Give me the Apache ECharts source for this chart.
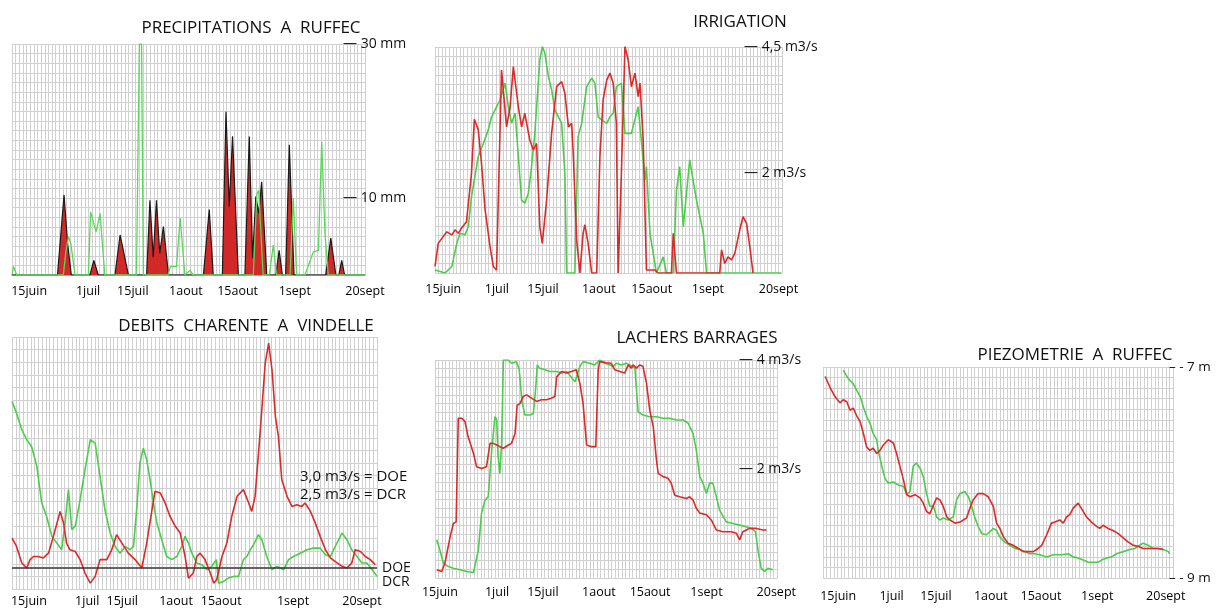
<!DOCTYPE html>
<html><head><meta charset="utf-8">
<script src="https://cdn.jsdelivr.net/npm/echarts@6/dist/echarts.min.js"></script>
<style>html,body{margin:0;padding:0;background:#fff}#c{width:1217px;height:608px}</style>
</head><body><div id="c"></div>
<script>
// ---- tick labels (x axis = days since 15 June) ----
const dayLabels = ['15juin','1juil','15juil','1aout','15aout','1sept','20sept'];
const precipLabelDays = [4.7, 20.9, 33.2, 47.8, 62, 77.7, 97];
const irrigLabelDays  = [2.3, 17.3, 30.2, 45.8, 60.6, 76.3, 96];
const debitLabelDays  = [4.5, 20, 29.3, 43.6, 55.6, 74.7, 93];
const lacherLabelDays = [1.4, 17.6, 30.6, 46.5, 61, 77, 96.8];
const piezoLabelDays  = [4.2, 19, 31.3, 46.5, 60.4, 76, 95];

// ---- Precipitations a Ruffec (mm) ----
const precipRed = [[0,0],[12.5,0],[14.3,10.4],[15.3,4],[16.3,0],[21.4,0],[22.5,1.9],[23.7,0],[28.3,0],[29.7,5.2],[32,0],[37,0],[37.9,9.7],[38.8,2.3],[39.7,9.7],[40.6,2.8],[41.6,6.3],[43,0],[52.6,0],[54.2,8.5],[55.3,0],[57.8,0],[58.8,21.2],[59.7,8.9],[60.6,18],[62.2,0],[64,0],[65.2,18],[66.1,2.2],[67,10.2],[67.8,8],[68.6,12.1],[70,0],[72.5,0],[73.4,3.2],[74.3,0],[75.2,0],[76.2,16.9],[77.5,0],[86.2,0],[87.6,4.8],[89,0],[89.8,0],[90.6,1.9],[91.4,0],[97,0]];
const precipGreen = [[0,0],[0.4,1.1],[1.3,0],[14.1,0],[14.8,3],[15.5,5],[16.2,4],[17.3,0],[21,0],[21.6,8.2],[23.1,5.6],[24.2,8.0],[25.5,0],[34.2,0],[35,30],[35.6,30],[36.1,0],[42.9,0],[43.5,1.1],[45.2,1.1],[46.2,7.4],[47.5,0],[48.9,0.6],[49.8,0],[66.3,0],[67.3,10.5],[67.8,11],[69,0],[70.7,0],[71.8,3.9],[72.7,0],[76.4,0],[77.3,10],[78.2,0],[80.5,0],[82.8,3.0],[84.2,3.2],[85.1,17.3],[86,5.4],[86.9,0],[97,0]];

// ---- Irrigation (m3/s) ----
const irrigRed = [[0,0.13],[0.9,0.59],[3.3,0.82],[4.7,0.76],[5.6,0.86],[6.5,0.79],[7.4,0.89],[8.8,1.02],[10.2,1.98],[11.0,3.06],[12.1,2.85],[13.0,2.18],[14.0,1.26],[15.4,0.52],[16.3,0.13],[17.2,0.06],[18.6,4.04],[20.0,2.91],[21.0,3.31],[21.9,4.11],[23.3,3.31],[24.2,2.91],[25.1,3.18],[26.5,2.65],[27.5,2.45],[28.4,2.58],[29.3,0.92],[30.0,0.59],[31.2,1.45],[32.6,2.78],[34.0,3.71],[35.4,3.81],[36.3,3.58],[37.3,2.91],[38.2,2.98],[38.6,2.45],[39.6,0.66],[40.5,0],[41.4,0.79],[41.9,0.96],[42.8,0.59],[43.8,0],[45.2,0],[46.1,2.32],[47.0,3.45],[48.0,3.84],[48.9,3.98],[49.8,3.78],[50.7,2.98],[51.2,0],[52.1,1.98],[53.1,4.51],[54.0,4.24],[54.9,3.71],[55.9,3.98],[56.8,3.51],[57.3,3.78],[58.2,2.65],[59.1,0.06],[61.5,0.06],[62.4,0],[66.1,0],[66.6,0.79],[67.5,0],[79.6,0],[80.1,0.46],[81.0,0.19],[81.9,0.32],[82.9,0.26],[83.8,0.39],[85.2,0.86],[86.1,1.12],[87.1,0.99],[88.0,0.52],[88.9,0]];
const irrigGreen = [[0,0.06],[2.8,0],[4.7,0.13],[6.1,0.59],[7.0,0.79],[8.4,0.76],[9.3,0.92],[10.2,1.52],[12.1,2.32],[13.5,2.58],[14.9,2.85],[15.8,3.11],[16.8,3.25],[18.2,3.45],[19.6,3.78],[20.5,3.31],[21.4,2.98],[22.4,3.18],[23.3,2.32],[24.2,1.45],[25.1,1.39],[26.1,1.59],[27.0,2.12],[27.9,2.78],[29.3,4.24],[30.0,4.51],[30.7,4.38],[31.7,3.91],[32.6,3.65],[33.5,3.25],[35.4,2.98],[36.3,1.98],[36.8,0],[39.1,0],[40.0,2.72],[41.0,2.98],[42.4,3.71],[43.8,3.88],[44.7,3.78],[45.6,3.11],[46.6,3.05],[48.0,2.98],[48.9,3.11],[49.8,3.18],[50.7,3.71],[52.1,3.78],[53.1,2.78],[54.9,2.78],[56.8,3.31],[58.7,1.85],[59.1,2.12],[60.1,0.79],[61.9,0],[63.8,0.32],[64.7,0],[66.6,0],[67.5,1.65],[68.4,2.12],[69.4,0.92],[71.2,2.25],[73.1,1.45],[75.0,0.79],[75.9,0],[96.8,0]];

// ---- Debits Charente a Vindelle (m3/s) ----
const debitRed = [[0,4.07],[1.2,3.77],[2.6,3.18],[3.9,3.0],[4.8,3.3],[5.7,3.41],[7.0,3.41],[8.3,3.36],[9.7,3.53],[11.0,4.13],[12.8,5.02],[13.7,4.61],[14.5,3.89],[15.4,3.65],[16.8,3.59],[18.1,3.3],[19.4,2.82],[20.8,2.46],[22.1,2.7],[23.4,3.3],[25.2,3.3],[26.5,3.65],[27.8,4.19],[29.2,3.89],[30.9,3.53],[32.7,3.3],[34.5,3.0],[35.8,3.89],[37.2,5.08],[38.0,5.74],[39.4,5.68],[40.7,5.32],[42.0,4.84],[43.4,4.49],[44.7,4.25],[46.0,3.41],[46.9,2.64],[48.2,2.82],[49.1,3.41],[50.0,3.53],[51.3,3.3],[52.7,2.82],[53.6,2.46],[54.4,2.58],[55.8,3.41],[57.1,3.89],[58.4,4.84],[59.8,5.56],[61.5,5.8],[62.9,5.32],[63.7,5.02],[64.6,5.56],[66.0,7.94],[67.3,10.32],[68.2,11.03],[69.1,10.08],[70.0,8.41],[70.8,7.70],[71.7,6.15],[73.1,5.56],[74.4,5.2],[75.7,5.26],[77.0,5.2],[77.9,5.32],[79.3,5.02],[80.6,4.61],[81.9,4.13],[83.3,3.65],[84.6,3.36],[86.4,3.18],[87.7,3.06],[89.0,3.0],[90.3,3.18],[91.2,3.65],[92.6,3.59],[93.9,3.41],[95.2,3.3],[96.5,3.12]];
const debitGreen = [[0,8.95],[1.2,8.53],[2.6,7.94],[3.9,7.58],[5.2,7.34],[6.6,6.63],[7.9,5.32],[9.2,4.84],[10.6,4.13],[11.9,3.89],[13.2,3.65],[14.1,4.61],[15.0,5.8],[15.9,4.37],[16.8,4.49],[18.1,5.44],[19.4,6.51],[20.8,7.58],[22.1,7.46],[23.4,6.27],[24.7,5.08],[26.1,4.25],[27.4,3.77],[28.7,3.53],[30.1,3.77],[31.4,3.65],[32.3,3.77],[33.2,5.2],[34.0,6.75],[34.9,7.28],[35.8,6.87],[36.7,6.15],[37.6,5.32],[38.5,4.61],[39.8,4.01],[41.1,3.41],[42.5,3.3],[43.8,3.41],[45.1,3.77],[46.0,4.13],[46.9,3.89],[47.8,3.53],[49.1,3.18],[50.4,3.12],[51.8,2.94],[53.1,3.06],[54.3,3.3],[54.9,2.46],[56.2,2.52],[57.5,2.64],[58.9,2.70],[60.2,2.70],[61.5,3.3],[62.4,3.41],[63.3,3.65],[64.2,3.83],[65.5,4.19],[66.4,4.01],[67.7,3.41],[69.1,2.94],[70.4,3.06],[72.2,2.94],[73.5,3.3],[74.8,3.41],[76.6,3.53],[78.4,3.65],[80.1,3.71],[81.9,3.71],[83.3,3.47],[84.6,3.41],[85.9,3.77],[87.7,4.25],[89.0,4.01],[90.3,3.65],[91.7,3.41],[93.0,3.18],[94.3,3.18],[95.7,2.94],[97.0,2.70]];
const DOE = 3.0, DCR = 2.5;

// ---- Lachers barrages (m3/s) ----
const lacherRed = [[0.5,0.15],[1.9,0.12],[2.8,0.27],[4.3,0.76],[5.2,1.0],[6.0,1.03],[6.6,2.93],[7.6,2.93],[8.5,2.87],[9.4,2.59],[10.9,2.29],[11.8,2.04],[13.2,2.01],[14.6,2.04],[15.6,2.47],[16.5,2.47],[17.5,2.44],[18.4,2.41],[19.4,2.38],[20.8,2.44],[21.7,2.47],[22.7,2.65],[23.3,3.17],[24.1,3.2],[25.0,3.33],[26.0,3.36],[27.4,3.30],[28.8,3.24],[30.2,3.27],[31.6,3.27],[33.0,3.30],[34.0,3.33],[34.5,3.69],[35.9,3.79],[37.3,3.76],[38.7,3.79],[40.1,3.82],[41.1,3.57],[42.0,3.20],[43.0,2.44],[44.4,2.41],[45.6,2.41],[46.3,3.82],[46.7,3.97],[48.6,3.95],[50.0,3.94],[51.0,3.82],[52.4,3.79],[53.8,3.76],[54.8,3.91],[55.7,3.85],[56.2,3.91],[57.1,3.85],[58.1,3.91],[59.0,3.88],[60.0,3.57],[60.9,3.08],[61.9,2.78],[62.8,2.17],[63.3,1.92],[64.7,1.86],[66.1,1.83],[67.0,1.74],[68.0,1.52],[69.4,1.49],[71.3,1.46],[72.2,1.49],[73.2,1.43],[74.1,1.28],[75.1,1.19],[77.0,1.16],[78.4,1.06],[79.8,0.88],[81.7,0.85],[84.0,0.85],[85.5,0.82],[86.4,0.70],[87.3,0.85],[88.3,0.88],[89.2,0.91],[91.1,0.91],[93.0,0.88],[94.0,0.88]];
const lacherGreen = [[0.5,0.70],[1.4,0.51],[2.4,0.27],[3.8,0.21],[5.2,0.18],[7.1,0.15],[9.0,0.12],[10.9,0.10],[12.3,0.51],[13.2,1.19],[14.2,1.43],[15.1,1.49],[16.1,2.35],[17.0,2.96],[17.5,2.90],[17.9,2.23],[18.4,1.92],[18.9,2.47],[19.4,4.0],[20.8,4.0],[21.7,3.94],[23.1,3.97],[23.9,3.82],[24.6,3.27],[25.5,2.99],[26.9,2.99],[27.9,3.02],[28.6,3.51],[29.0,3.91],[29.7,3.85],[31.2,3.82],[32.6,3.79],[34.5,3.79],[35.9,3.76],[37.3,3.79],[38.2,3.72],[39.7,3.60],[41.1,3.88],[42.0,3.97],[43.9,3.94],[45.3,3.91],[46.7,4.0],[48.2,3.94],[49.6,3.91],[50.5,3.88],[51.5,3.94],[52.9,3.91],[54.3,3.94],[55.2,3.91],[56.7,3.85],[57.6,3.05],[59.0,2.99],[60.9,2.96],[62.8,2.96],[64.7,2.93],[66.6,2.93],[68.5,2.90],[70.4,2.90],[71.8,2.84],[73.2,2.65],[74.1,2.35],[75.1,1.86],[76.0,1.74],[77.0,1.55],[77.9,1.74],[78.8,1.74],[79.8,1.49],[80.7,1.25],[82.6,1.03],[84.5,1.0],[86.4,0.97],[88.3,0.94],[89.7,0.91],[90.9,0.85],[91.6,0.51],[92.5,0.18],[93.5,0.12],[94.4,0.18],[95.8,0.15]];

// ---- Piezometrie a Ruffec (m) ----
const piezoRed = [[0.6,-7.09],[1.9,-7.19],[3.3,-7.28],[4.7,-7.34],[5.6,-7.31],[6.6,-7.33],[7.5,-7.41],[8.4,-7.39],[9.3,-7.46],[10.3,-7.52],[11.2,-7.63],[12.1,-7.76],[13.0,-7.79],[13.9,-7.77],[14.9,-7.82],[15.8,-7.79],[16.7,-7.74],[18.1,-7.69],[19.5,-7.72],[20.4,-7.82],[21.3,-7.94],[22.3,-8.07],[23.2,-8.21],[24.1,-8.23],[25.5,-8.21],[26.9,-8.24],[27.8,-8.29],[28.7,-8.37],[29.6,-8.39],[30.6,-8.31],[31.5,-8.24],[32.4,-8.26],[33.3,-8.32],[34.3,-8.42],[35.2,-8.45],[36.6,-8.48],[38.0,-8.47],[38.9,-8.45],[39.8,-8.43],[40.7,-8.34],[41.6,-8.26],[43.0,-8.20],[44.4,-8.20],[45.8,-8.23],[47.2,-8.32],[48.1,-8.48],[49.0,-8.53],[50.0,-8.61],[51.3,-8.67],[52.7,-8.69],[54.1,-8.72],[55.5,-8.75],[56.9,-8.75],[58.3,-8.75],[59.2,-8.73],[60.6,-8.69],[62.0,-8.59],[63.3,-8.48],[64.3,-8.47],[65.6,-8.45],[66.6,-8.48],[67.5,-8.42],[68.4,-8.40],[69.3,-8.34],[70.7,-8.29],[71.6,-8.34],[73.0,-8.42],[74.4,-8.47],[75.8,-8.51],[76.7,-8.53],[77.6,-8.50],[79.0,-8.53],[80.4,-8.55],[81.8,-8.58],[83.2,-8.62],[84.6,-8.66],[86.0,-8.69],[87.3,-8.70],[88.7,-8.72],[90.1,-8.72],[91.5,-8.72],[92.9,-8.72],[94.3,-8.73]];
const piezoGreen = [[5.6,-7.03],[7.0,-7.11],[8.4,-7.16],[9.3,-7.22],[10.3,-7.28],[11.2,-7.38],[12.1,-7.47],[13.0,-7.53],[13.9,-7.63],[14.9,-7.69],[15.3,-7.79],[16.3,-7.94],[17.2,-8.06],[18.1,-8.10],[19.5,-8.09],[20.9,-8.12],[22.3,-8.13],[23.2,-8.21],[24.1,-8.18],[25.0,-7.94],[25.9,-7.91],[26.9,-7.96],[27.8,-8.04],[28.7,-8.20],[29.6,-8.32],[30.6,-8.32],[31.5,-8.42],[32.4,-8.45],[33.3,-8.43],[34.7,-8.45],[36.1,-8.42],[37.0,-8.26],[38.0,-8.20],[39.3,-8.18],[40.3,-8.23],[41.2,-8.32],[42.1,-8.43],[43.0,-8.51],[44.0,-8.58],[45.3,-8.59],[46.3,-8.56],[47.2,-8.53],[48.1,-8.55],[49.0,-8.61],[50.4,-8.66],[51.8,-8.69],[53.2,-8.72],[54.6,-8.73],[56.0,-8.75],[57.3,-8.77],[58.7,-8.77],[60.1,-8.78],[62.0,-8.80],[63.8,-8.78],[66.1,-8.78],[68.0,-8.77],[69.3,-8.80],[70.7,-8.81],[72.1,-8.83],[73.5,-8.85],[74.9,-8.85],[76.3,-8.85],[77.2,-8.83],[78.6,-8.81],[80.0,-8.80],[81.3,-8.77],[83.2,-8.75],[85.0,-8.73],[86.4,-8.72],[87.8,-8.69],[88.7,-8.67],[90.1,-8.69],[91.5,-8.72],[92.9,-8.72],[94.3,-8.73],[95.7,-8.75],[96.1,-8.77]];

// ---------------- chart ----------------
const FONT = '"Open Sans", "DejaVu Sans", sans-serif';
const GRID = '#d0d0d0';
const RED = '#dc2a2a';
const GREEN = '#4ccc4c';
const chart = echarts.init(document.getElementById('c'), null, {renderer: 'canvas'});

const grids = [
  {left: 12,  top: 44,  width: 353, height: 231},
  {left: 435, top: 47,  width: 347, height: 226},
  {left: 12,  top: 337, width: 365, height: 252},
  {left: 435, top: 360, width: 342, height: 218},
  {left: 823, top: 367, width: 350, height: 211}
].map(g => Object.assign({containLabel: false, outerBoundsMode: 'none'}, g));

function xAx(i, labelDays, margin) {
  return {
    type: 'value', gridIndex: i, min: 0, max: 97, interval: 1,
    axisLine: {show: i === 0, lineStyle: {color: '#9a9a9a', width: 1.5}},
    axisTick: {show: false},
    splitLine: {show: true, lineStyle: {color: GRID, width: 1}},
    axisLabel: {
      customValues: labelDays, margin: margin, color: '#000', fontSize: 12.5, fontFamily: FONT,
      formatter: v => dayLabels[labelDays.indexOf(v)] || ''
    }
  };
}
function yAx(i, min, max, interval, labelVals, labelTexts, margin, size) {
  return {
    type: 'value', gridIndex: i, min: min, max: max, interval: interval, position: 'right',
    axisLine: {show: false}, axisTick: {show: false},
    splitLine: {show: true, lineStyle: {color: GRID, width: 1}},
    axisLabel: {
      customValues: labelVals, margin: margin, align: 'left', color: '#111', fontSize: size || 14, fontFamily: FONT,
      formatter: v => labelTexts[labelVals.indexOf(v)] || ''
    }
  };
}
function line(i, data, color, width, z) {
  return {type: 'line', xAxisIndex: i, yAxisIndex: i, data: data, showSymbol: false, symbol: 'none',
    lineStyle: {color: color, width: width}, z: z, clip: true, animation: false, silent: true};
}
function txt(x, y, text, size, align) {
  return {type: 'text', x: x, y: y, z: 100,
    style: {text: text, fill: '#111', font: size + 'px ' + FONT, textAlign: align || 'center', textVerticalAlign: 'middle'}};
}

const option = {
  animation: false,
  backgroundColor: '#fff',
  grid: grids,
  xAxis: [
    xAx(0, precipLabelDays, 10),
    xAx(1, irrigLabelDays, 10),
    xAx(2, debitLabelDays, 6),
    xAx(3, lacherLabelDays, 8),
    xAx(4, piezoLabelDays, 12)
  ],
  yAxis: [
    yAx(0, 0, 30, 1.25, [30, 10], ['— 30 mm', '— 10 mm'], -22),
    yAx(1, 0, 4.5, 0.1875, [4.5, 2], ['— 4,5 m3/s', '— 2 m3/s'], -38),
    yAx(2, 2.25, 11.25, 0.45, [DOE, DCR], ['DOE', 'DCR'], 5),
    yAx(3, 0, 4, 0.16, [4, 2], ['— 4 m3/s', '— 2 m3/s'], -38),
    yAx(4, -9, -7, 0.1, [-7, -9], ['– - 7 m', '– - 9 m'], -4, 13.5)
  ],
  graphic: [
    txt(251, 28, 'PRECIPITATIONS  A  RUFFEC', 17),
    txt(740, 22, 'IRRIGATION', 17),
    txt(246, 326, 'DEBITS  CHARENTE  A  VINDELLE', 17),
    txt(697, 338, 'LACHERS BARRAGES', 17),
    txt(1075, 355, 'PIEZOMETRIE  A  RUFFEC', 17),
    txt(300, 477, '3,0 m3/s = DOE', 15, 'left'),
    txt(300, 495, '2,5 m3/s = DCR', 15, 'left')
  ],
  series: [
    // precipitation
    {type: 'line', xAxisIndex: 0, yAxisIndex: 0, data: precipRed, showSymbol: false, symbol: 'none',
     lineStyle: {color: '#1a1a1a', width: 1.2}, areaStyle: {color: '#d21e1e', opacity: 0.95}, z: 3, clip: true, silent: true},
    line(0, precipGreen, '#5ad65a', 1.3, 4),
    // irrigation
    line(1, irrigGreen, GREEN, 1.6, 3),
    line(1, irrigRed, RED, 1.6, 4),
    // debits
    line(2, debitGreen, GREEN, 1.6, 3),
    Object.assign(line(2, debitRed, RED, 1.6, 4), {
      markLine: {symbol: 'none', silent: true, label: {show: false},
        lineStyle: {color: '#333', width: 1.5, type: 'solid'}, data: [{yAxis: DOE}]}
    }),
    // lachers
    line(3, lacherGreen, GREEN, 1.6, 3),
    line(3, lacherRed, RED, 1.6, 4),
    // piezo
    line(4, piezoGreen, GREEN, 1.6, 3),
    line(4, piezoRed, RED, 1.6, 4)
  ]
};
chart.setOption(option);
</script>
</body></html>
